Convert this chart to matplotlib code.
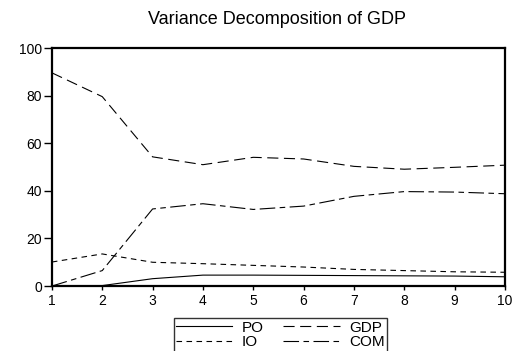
import matplotlib.pyplot as plt

periods = [1, 2, 3, 4, 5, 6, 7, 8, 9, 10]
po = [0.0, 0.2, 3.1, 4.6, 4.6, 4.5, 4.4, 4.3, 4.2, 3.9]
gdp = [89.6, 79.6, 54.3, 51.0, 54.1, 53.4, 50.3, 49.1, 49.9, 50.8]
io = [10.1, 13.5, 10.0, 9.4, 8.7, 8.0, 7.0, 6.5, 6.0, 5.8]
com = [0.0, 6.5, 32.4, 34.6, 32.2, 33.6, 37.7, 39.7, 39.5, 38.8]

plt.rcParams['font.family'] = ['Liberation Sans', 'DejaVu Sans']

fig = plt.figure(figsize=(5.19, 3.51), dpi=100)
ax = fig.add_axes([0.100, 0.185, 0.873, 0.678])

lw = 0.8
ax.plot(periods, po, color='black', linewidth=lw, linestyle='-', label='PO')
ax.plot(periods, io, color='black', linewidth=lw, linestyle=(0, (5, 4)), label='IO')
ax.plot(periods, gdp, color='black', linewidth=lw, linestyle=(0, (10, 5)), label='GDP')
ax.plot(periods, com, color='black', linewidth=lw, linestyle=(0, (14, 4, 5, 4)), label='COM')

ax.set_xlim(1, 10)
ax.set_ylim(0, 100)
ax.set_xticks(periods)
ax.set_yticks([0, 20, 40, 60, 80, 100])
ax.tick_params(axis='y', direction='out', length=6, width=1, labelsize=10, pad=1)
ax.tick_params(axis='x', direction='out', length=3, width=1, labelsize=10, pad=3)
for s in ax.spines.values():
    s.set_linewidth(1.6)

fig.text(0.534, 0.944, 'Variance Decomposition of GDP', ha='center', va='center', fontsize=13)

fig.legend(loc='upper center', bbox_to_anchor=(0.54, 0.093), ncol=2, fontsize=11,
           frameon=True, fancybox=False, edgecolor='black', handlelength=3.7,
           labelspacing=0.05, columnspacing=1.3, borderpad=0.15, handletextpad=0.6,
           borderaxespad=0)

fig.savefig('out.png', dpi=100)
